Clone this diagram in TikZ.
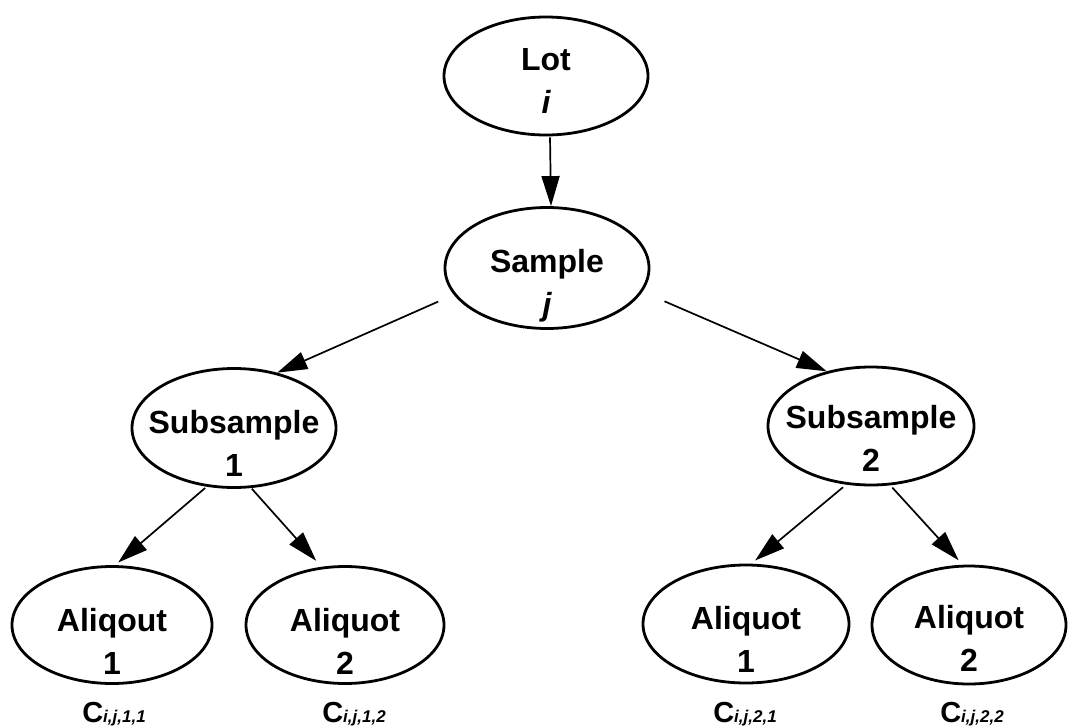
\documentclass[tikz,border=0pt]{standalone}
\usepackage{fontspec}
\setmainfont{Liberation Sans}
\usetikzlibrary{arrows.meta,shapes.geometric}
\newcommand\idxtxt[1]{{\fontsize{17}{17}\selectfont\bfseries\itshape #1}}
\begin{document}
\begin{tikzpicture}[x=1pt,y=-1pt,
  ell/.style={ellipse, draw, line width=2.8pt, inner sep=0pt},
  txt/.style={align=center, inner sep=0pt, font=\fontsize{32}{43}\selectfont\bfseries},
  arr/.style={line width=1.7pt, -{Triangle[length=30pt,width=18pt]}},
  clabel/.style={anchor=base, inner sep=0pt, font=\fontsize{29}{29}\selectfont\bfseries}]
\useasboundingbox (0,0) rectangle (1068,728);

\node[ell, minimum width=204pt, minimum height=118pt,
  label={[txt,yshift=-5pt]center:{Lot\\{\itshape i}}}] (lot) at (546,76) {};
\node[ell, minimum width=204pt, minimum height=121pt,
  label={[txt,yshift=-18pt]center:{Sample\\{\itshape j}}}] (sample) at (547,268) {};
\node[ell, minimum width=204pt, minimum height=119pt,
  label={[txt,yshift=-15pt]center:{Subsample\\1}}] (sub1) at (234,428) {};
\node[ell, minimum width=206pt, minimum height=118pt,
  label={[txt,yshift=-12pt]center:{Subsample\\2}}] (sub2) at (871,426) {};
\node[ell, minimum width=200pt, minimum height=117pt,
  label={[txt,yshift=-16pt]center:{Aliqout\\1}}] (a11) at (112,625) {};
\node[ell, minimum width=198pt, minimum height=117pt,
  label={[txt,yshift=-16pt]center:{Aliquot\\2}}] (a12) at (345,625) {};
\node[ell, minimum width=206pt, minimum height=118pt,
  label={[txt,yshift=-15pt]center:{Aliquot\\1}}] (a21) at (746,624) {};
\node[ell, minimum width=194pt, minimum height=118pt,
  label={[txt,yshift=-13pt]center:{Aliquot\\2}}] (a22) at (969,625) {};

\draw[arr, shorten <=1pt] ([xshift=4pt]lot.south) -- ([xshift=4pt]sample.north);
\draw[arr, shorten <=17pt] (sample.196) -- (sub1.52);
\draw[arr, shorten <=24pt] (sample.346) -- (sub2.129);
\draw[arr, shorten <=2pt, shorten >=4pt] (sub1.245) -- (a11.87);
\draw[arr, shorten <=1pt, shorten >=8pt] (sub1.286) -- (a12.112);
\draw[arr, shorten <=4pt, shorten >=5pt] (sub2.247) -- (a21.85);
\draw[arr, shorten <=3pt, shorten >=6pt] (sub2.288) -- (a22.96);

\node[clabel] (c11) at (114,722) {C\idxtxt{i,j,1,1}};
\node[clabel] (c12) at (354,722) {C\idxtxt{i,j,1,2}};
\node[clabel] (c21) at (745,722) {C\idxtxt{i,j,2,1}};
\node[clabel] (c22) at (972,722) {C\idxtxt{i,j,2,2}};
\end{tikzpicture}
\end{document}
